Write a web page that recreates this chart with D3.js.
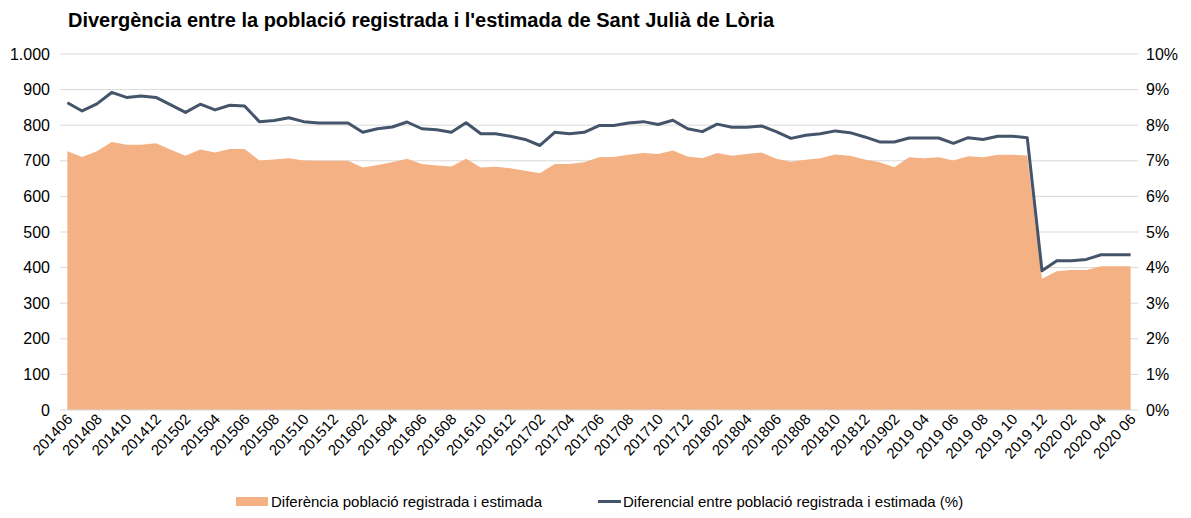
<!DOCTYPE html>
<html>
<head>
<meta charset="utf-8">
<script src="https://cdn.jsdelivr.net/npm/d3@7"></script>
<style>
  body { margin: 0; background: #fff; }
  text { font-family: "Liberation Sans", Arial, sans-serif; fill: #000; }
</style>
</head>
<body>
<div id="container"></div>
<script>
// months 201406 .. 202006 (Excel labels switch to "YYYY MM" from 2019 03)
const months = [
  "201406","201407","201408","201409","201410","201411","201412",
  "201501","201502","201503","201504","201505","201506","201507","201508","201509","201510","201511","201512",
  "201601","201602","201603","201604","201605","201606","201607","201608","201609","201610","201611","201612",
  "201701","201702","201703","201704","201705","201706","201707","201708","201709","201710","201711","201712",
  "201801","201802","201803","201804","201805","201806","201807","201808","201809","201810","201811","201812",
  "201901","201902","2019 03","2019 04","2019 05","2019 06","2019 07","2019 08","2019 09","2019 10","2019 11","2019 12",
  "2020 01","2020 02","2020 03","2020 04","2020 05","2020 06"
];

// diferencia poblacio registrada i estimada
const diff = [727,711,727,753,745,745,749,731,714,732,723,733,733,701,704,707,701,700,700,700,
  681,688,696,706,691,687,684,706,681,683,679,672,665,691,691,696,710,711,717,722,
  719,729,712,707,722,714,719,723,706,697,703,707,718,714,704,696,682,710,707,710,
  701,713,710,717,717,715,369,390,393,393,404,404,404];

// diferencial (%)
const pct = [8.63,8.40,8.60,8.92,8.78,8.82,8.78,8.57,8.36,8.59,8.43,8.56,8.54,8.10,8.13,8.21,8.10,8.06,8.06,8.06,
  7.80,7.90,7.95,8.09,7.90,7.87,7.80,8.07,7.76,7.76,7.69,7.60,7.43,7.80,7.76,7.80,7.99,7.99,8.06,8.10,
  8.02,8.14,7.90,7.82,8.03,7.94,7.94,7.98,7.82,7.63,7.72,7.76,7.84,7.79,7.67,7.53,7.53,7.64,7.64,7.64,
  7.49,7.65,7.60,7.69,7.69,7.65,3.91,4.19,4.19,4.23,4.36,4.36,4.36];

const leftTicks = [0,100,200,300,400,500,600,700,800,900,1000];
const rightTicks = [0,1,2,3,4,5,6,7,8,9,10];
const title = "Divergència entre la població registrada i l'estimada de Sant Julià de Lòria";
const legendNames = ["Diferència població registrada i estimada", "Diferencial entre població registrada i estimada (%)"];

const w = 1191, h = 518;
const plotLeft = 60, plotRight = 1138, plotTop = 54, plotBottom = 410;

const svg = d3.select("#container").append("svg")
  .attr("width", w).attr("height", h);

const x = d3.scaleBand().domain(months).range([plotLeft, plotRight]);
const cx = d => x(d) + x.bandwidth() / 2;
const yL = d3.scaleLinear().domain([0, 1000]).range([plotBottom, plotTop]);
const yR = d3.scaleLinear().domain([0, 10]).range([plotBottom, plotTop]);

// gridlines
svg.append("g").selectAll("line")
  .data(leftTicks.slice(1))
  .enter().append("line")
  .attr("x1", plotLeft).attr("x2", plotRight)
  .attr("y1", d => yL(d)).attr("y2", d => yL(d))
  .attr("stroke", "#d9d9d9").attr("stroke-width", 1);

// area
const area = d3.area()
  .x((d, i) => cx(months[i]))
  .y0(yL(0))
  .y1(d => yL(d));
svg.append("path").datum(diff)
  .attr("d", area)
  .attr("fill", "#f4b183");

// axis baseline
svg.append("line")
  .attr("x1", plotLeft).attr("x2", plotRight)
  .attr("y1", plotBottom).attr("y2", plotBottom)
  .attr("stroke", "#d9d9d9").attr("stroke-width", 1);

// line
const line = d3.line()
  .x((d, i) => cx(months[i]))
  .y(d => yR(d));
svg.append("path").datum(pct)
  .attr("d", line)
  .attr("fill", "none")
  .attr("stroke", "#44546a")
  .attr("stroke-width", 3)
  .attr("stroke-linejoin", "round");

// left axis labels
svg.append("g").selectAll("text")
  .data(leftTicks).enter().append("text")
  .attr("x", 50).attr("y", d => yL(d) + 5.5)
  .attr("text-anchor", "end")
  .style("font-size", "16px")
  .text(d => d3.format(",")(d).replace(",", "."));

// right axis labels
svg.append("g").selectAll("text")
  .data(rightTicks).enter().append("text")
  .attr("x", 1146).attr("y", d => yR(d) + 5.5)
  .attr("text-anchor", "start")
  .style("font-size", "16px")
  .text(d => d + "%");

// x labels, every second month
svg.append("g").selectAll("text")
  .data(months.filter((d, i) => i % 2 === 0)).enter().append("text")
  .attr("transform", d => "translate(" + (cx(d) + 6) + "," + 420 + ") rotate(-47)")
  .attr("text-anchor", "end")
  .style("font-size", "15px")
  .text(d => d);

// title
svg.append("text")
  .attr("x", 68).attr("y", 27)
  .style("font-size", "20px").style("font-weight", "bold")
  .text(title);

// legend
svg.append("rect")
  .attr("x", 236).attr("y", 497).attr("width", 32).attr("height", 9)
  .attr("fill", "#f4b183");
svg.append("text")
  .attr("x", 271).attr("y", 507)
  .style("font-size", "15px")
  .text(legendNames[0]);
svg.append("line")
  .attr("x1", 598).attr("x2", 621).attr("y1", 501.5).attr("y2", 501.5)
  .attr("stroke", "#44546a").attr("stroke-width", 3);
svg.append("text")
  .attr("x", 623).attr("y", 507)
  .style("font-size", "15px")
  .text(legendNames[1]);
</script>
</body>
</html>
